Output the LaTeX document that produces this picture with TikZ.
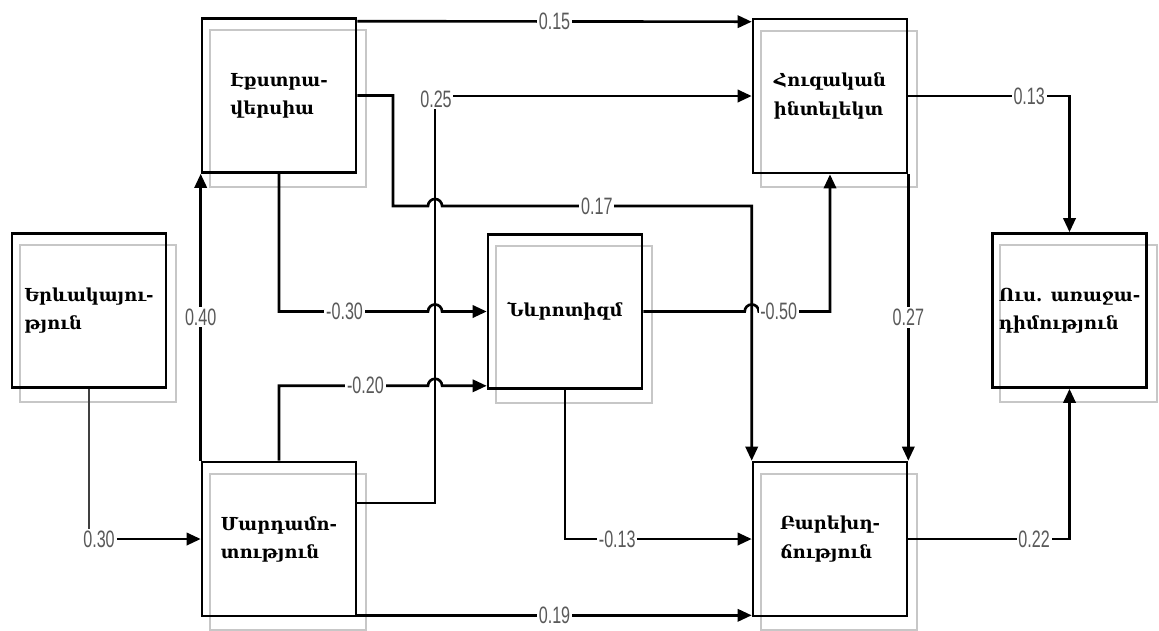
\documentclass[tikz,border=0pt]{standalone}
\usepackage{fontspec}
\setmainfont{DejaVu Serif}
\newfontfamily\lblfont[FakeStretch=0.68]{Liberation Sans}
\usetikzlibrary{arrows.meta,calc,backgrounds}
\begin{document}
\begin{tikzpicture}[x=0.02cm,y=0.02cm,
  box/.style={draw, line width=1.5pt, minimum width=3.08cm, minimum height=3.08cm,
    inner sep=0pt, align=left, font=\fontsize{10.2}{16}\selectfont\bfseries},
  conn/.style={line width=1.5pt},
  arr/.style={-{Triangle[length=8pt,width=7pt]}},
  lbl/.style={fill=white, inner sep=1pt, text=black!65, font=\fontsize{13.5}{13.5}\selectfont\lblfont},
  shadowbox/.style={line width=1.3pt, black!22},
]
\useasboundingbox (0,0) rectangle (1159,-630);

\node[box] (b1) at (89,-310.5) {Երևակայու-\\թյուն};
\node[box] (b2) at (279,-95.5) {Էքստրա-\\վերսիա};
\node[box] (b3) at (830,-96) {Հուզական\\ինտելեկտ};
\node[box] (b4) at (1069.5,-310.5) {Ուս. առաջա-\\դիմություն};
\node[box] (b5) at (565,-311.5) {Նևրոտիզմ};
\node[box] (b6) at (279,-539) {Մարդամո-\\տություն};
\node[box] (b7) at (830,-539) {Բարեխղ-\\ճություն};

\begin{pgfonlayer}{background}
\foreach \n in {b1,b2,b3,b4,b5,b6,b7}{
  \draw[shadowbox] ($(\n.south west)+(9,-13)$) rectangle ($(\n.north east)+(9,-13)$);
}
\end{pgfonlayer}

\coordinate (vx) at (435,0);
\coordinate (k17) at (393,-206);
\coordinate (e20) at ($(b5.south west)+(0,4)$);
\coordinate (s25) at ($(b6.east)+(0,36)$);

% 0.30
\node[lbl] (l030) at ($(b1.south |- b6.west)+(10,0)$) {0.30};
\draw[line width=0.9pt, black!75] (b1.south) -- (b1.south |- l030.north);
\draw[conn,arr] (l030.east) -- (b6.west);

% 0.40
\draw[conn,arr] (b6.north west) -- node[lbl,pos=0.5] (l040) {0.40} (b2.south west);

% -0.20
\draw[conn,arr] (b6.north) -- (b6.north |- e20) -- node[lbl,pos=0.58] (l020) {-0.20}
  ($(vx |- e20)+(-7,0)$) arc[start angle=180,end angle=0,radius=4pt] -- (e20);

% 0.25
\draw[conn,arr] (s25) -- (vx |- s25) -- (vx |- b3.west) -- (b3.west);
\node[lbl] (l025) at ($(vx |- b3.west)+(1,-3)$) {0.25};

% 0.15
\draw[conn,arr] ($(b2.north east)+(0,-4)$) -- node[lbl] (l015) {0.15} ($(b3.north west)+(0,-4)$);

% 0.17
\draw[conn,arr] (b2.east) -- (b2.east -| k17) -- (k17) -- ($(vx |- k17)+(-7,0)$)
  arc[start angle=180,end angle=0,radius=4pt]
  -- node[lbl,pos=0.5] (l017) {0.17} (b7.north west |- k17) -- (b7.north west);

% -0.30
\draw[conn,arr] (b2.south) -- (b2.south |- b5.west) -- node[lbl,pos=0.44] (l030b) {-0.30}
  ($(vx |- b5.west)+(-7,0)$) arc[start angle=180,end angle=0,radius=4pt] -- (b5.west);

% -0.50
\draw[conn,arr] (b5.east) -- ($(b7.north west |- b5.east)+(-7,0)$)
  arc[start angle=180,end angle=0,radius=4pt]
  -- node[lbl,pos=0.28] (l050) {-0.50} (b3.south |- b5.east) -- (b3.south);

% 0.13
\draw[conn,arr] (b3.east) -- node[lbl,pos=0.75] (l013) {0.13} (b4.north |- b3.east) -- (b4.north);

% 0.27
\draw[conn,arr] (b3.south east) -- node[lbl] (l027) {0.27} (b7.north east);

% -0.13
\draw[conn,arr] (b5.south) |- node[lbl,pos=0.64] (l013b) {-0.13} (b7.west);

% 0.19
\draw[conn,arr] ($(b6.south east)+(0,2)$) -- node[lbl] (l019) {0.19} ($(b7.south west)+(0,2)$);

% 0.22
\draw[conn,arr] (b7.east) -| node[lbl,pos=0.39] (l022) {0.22} (b4.south);
\end{tikzpicture}
\end{document}
